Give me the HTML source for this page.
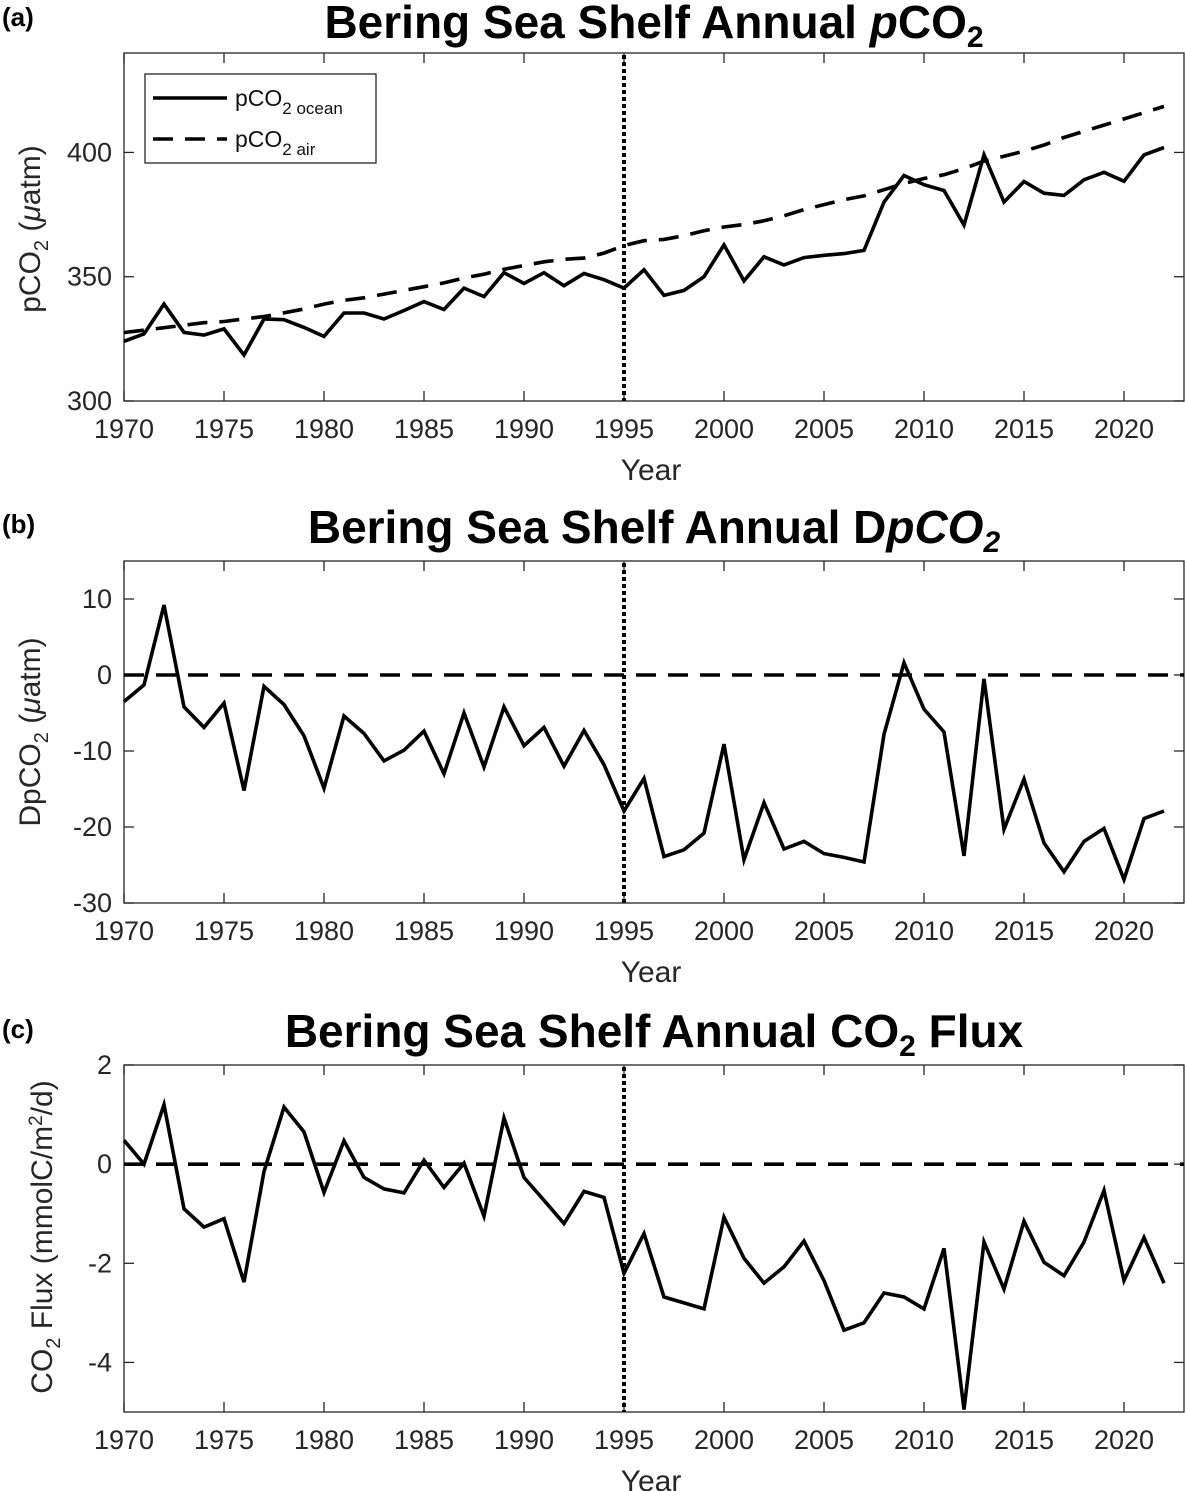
<!DOCTYPE html>
<html><head><meta charset="utf-8"><style>
body{margin:0;background:#fff;}
svg{display:block;font-family:"Liberation Sans",Arial,sans-serif;}
</style></head><body>
<svg id="fig" width="1185" height="1491" viewBox="0 0 1185 1491" xmlns="http://www.w3.org/2000/svg"></svg>
<script>
const years = [];
for (let y = 1970; y <= 2022; y++) years.push(y);
const pco2Ocean = [324,327,339,327.6,326.5,329,318.5,333,332.7,329.6,326,335.4,335.4,333,336.4,340,336.8,345.4,342,351.6,347.3,351.6,346.4,351.3,348.8,345.4,352.8,342.5,344.5,350,362.8,348.3,358,354.7,357.7,358.6,359.3,360.6,380,390.7,387,384.7,370.8,399,380,388.3,383.6,382.7,389,392,388.4,399,402];
const pco2Air = [327.5,328.5,329.5,330.5,331.5,332,333,334,335.5,337,339,340.5,341.5,343,344.5,346,347.5,349.5,351,353,354.5,356,357,357.5,359.5,362.5,364.5,365,366.5,368.5,370,371,372.5,374.5,377,379,381,382.5,385,387.5,389.5,391,393.5,396.5,398.5,400.5,403,406,408.5,411,413.5,416,418.5];
const dpco2 = [-3.5,-1.3,9.2,-4.2,-6.9,-3.7,-15.2,-1.5,-3.9,-8,-14.9,-5.4,-7.7,-11.3,-9.9,-7.4,-13,-5,-12.1,-4.2,-9.3,-6.9,-12,-7.3,-11.8,-17.9,-13.6,-23.9,-23,-20.8,-9.1,-24.3,-16.8,-22.9,-21.9,-23.5,-24,-24.6,-7.8,1.6,-4.5,-7.5,-23.8,-0.5,-20.3,-13.7,-22.1,-25.9,-21.9,-20.2,-26.9,-18.9,-17.9];
const flux = [0.48,0.0,1.2,-0.9,-1.27,-1.1,-2.38,-0.15,1.15,0.65,-0.57,0.47,-0.27,-0.5,-0.58,0.08,-0.47,0.02,-1.05,0.93,-0.27,-0.73,-1.2,-0.55,-0.67,-2.2,-1.4,-2.68,-2.8,-2.92,-1.07,-1.9,-2.4,-2.07,-1.55,-2.35,-3.35,-3.2,-2.6,-2.68,-2.92,-1.7,-4.95,-1.57,-2.52,-1.15,-1.98,-2.25,-1.57,-0.53,-2.35,-1.48,-2.4];
const xTicks = [1970,1975,1980,1985,1990,1995,2000,2005,2010,2015,2020];
const yTicksA = [300,350,400];
const yTicksB = [-30,-20,-10,0,10];
const yTicksC = [-4,-2,0,2];
const markerYear = [1995];

const svg = document.getElementById('fig');
const NS = 'http://www.w3.org/2000/svg';
function mk(tag, attrs, parent){const e=document.createElementNS(NS,tag);for(const k in attrs)e.setAttribute(k,attrs[k]);(parent||svg).appendChild(e);return e;}

const X0=124, X1=1184, XMIN=1970, XMAX=2023;
function sx(v){return X0+(v-XMIN)/(XMAX-XMIN)*(X1-X0);}

function panel(id, top, bottom, ymin, ymax, yTicks){
  const g = mk('g',{});
  
  
  const sy = v => bottom-(v-ymin)/(ymax-ymin)*(bottom-top);
  const box = mk('rect',{x:X0,y:top,width:X1-X0,height:bottom-top,fill:'none',stroke:'#262626','stroke-width':1.3},g);
  
  
  xTicks.forEach(t=>{
    const x=sx(t);
    mk('line',{x1:x,x2:x,y1:bottom,y2:bottom-10,stroke:'#262626','stroke-width':1.3},g);
    mk('line',{x1:x,x2:x,y1:top,y2:top+10,stroke:'#262626','stroke-width':1.3},g);
    const tx = mk('text',{x:x,y:bottom+37,'text-anchor':'middle','font-size':27,fill:'#262626'},g);
    tx.textContent=t;
    
    
  });
  yTicks.forEach(t=>{
    const y=sy(t);
    mk('line',{x1:X0,x2:X0+10,y1:y,y2:y,stroke:'#262626','stroke-width':1.3},g);
    mk('line',{x1:X1,x2:X1-10,y1:y,y2:y,stroke:'#262626','stroke-width':1.3},g);
    const tx = mk('text',{x:X0-12,y:y+9,'text-anchor':'end','font-size':27,fill:'#262626'},g);
    tx.textContent=t;
    
    
  });
  const xl = mk('text',{x:(X0+X1)/2-3,y:bottom+79,'text-anchor':'middle','font-size':30,fill:'#262626'},g);
  xl.textContent='Year';
  
  
  markerYear.forEach(m=>{
    const l = mk('line',{x1:sx(m),x2:sx(m),y1:top+2,y2:bottom,stroke:'#000','stroke-width':4,'stroke-dasharray':'4 3'},g);
    
    
  });
  return {g, sy};
}
function series(g, sy, vals, dash, name){
  const pts = vals.map((v,i)=>sx(years[i]).toFixed(1)+','+sy(v).toFixed(1)).join(' ');
  const p = mk('polyline',{points:pts,fill:'none',stroke:'#000','stroke-width':3.6,'stroke-linejoin':'miter','stroke-dasharray':dash||'none'},g);
  
  
}
function zero(g, sy){
  const l = mk('line',{x1:X0,x2:X1,y1:sy(0),y2:sy(0),stroke:'#000','stroke-width':3.6,'stroke-dasharray':'20 12'},g);
  
  
}

const A = panel('a',53,401,300,440,yTicksA);
series(A.g,A.sy,pco2Air,'20 12','series-pco2-air');
series(A.g,A.sy,pco2Ocean,null,'series-pco2-ocean');
const B = panel('b',561,903,-30,15,yTicksB);
zero(B.g,B.sy);
series(B.g,B.sy,dpco2,null,'series-dpco2');
const C = panel('c',1065,1412,-5,2,yTicksC);
zero(C.g,C.sy);
series(C.g,C.sy,flux,null,'series-co2-flux');
</script>
<svg style="position:absolute;left:0;top:0" width="1185" height="1491">
  <g font-family="Liberation Sans, Arial, sans-serif">
    <text x="2" y="26" font-size="26" font-weight="bold">(a)</text>
    <text x="2" y="533" font-size="26" font-weight="bold">(b)</text>
    <text x="2" y="1038" font-size="26" font-weight="bold">(c)</text>
    <text x="654" y="38" text-anchor="middle" font-size="46" font-weight="bold">Bering Sea Shelf Annual <tspan font-style="italic">p</tspan>CO<tspan font-size="30" dy="9">2</tspan></text>
    <text x="654" y="543" text-anchor="middle" font-size="46" font-weight="bold">Bering Sea Shelf Annual D<tspan font-style="italic">pCO</tspan><tspan font-style="italic" font-size="30" dy="9">2</tspan></text>
    <text x="654" y="1047" text-anchor="middle" font-size="46" font-weight="bold">Bering Sea Shelf Annual CO<tspan font-size="30" dy="9">2</tspan><tspan dy="-9"> Flux</tspan></text>
    <text transform="translate(40,229) rotate(-90)" text-anchor="middle" font-size="30" fill="#262626">pCO<tspan font-size="20" dy="8">2</tspan><tspan dy="-8"> (</tspan><tspan font-style="italic">μ</tspan>atm)</text>
    <text transform="translate(40,732) rotate(-90)" text-anchor="middle" font-size="30" fill="#262626">DpCO<tspan font-size="20" dy="8">2</tspan><tspan dy="-8"> (</tspan><tspan font-style="italic">μ</tspan>atm)</text>
    <text transform="translate(52,1237) rotate(-90)" text-anchor="middle" font-size="30" fill="#262626">CO<tspan font-size="20" dy="8">2</tspan><tspan dy="-8"> Flux (mmolC/m</tspan><tspan font-size="19" dy="-10">2</tspan><tspan dy="10">/d)</tspan></text>
    <g>
      <rect x="145" y="74" width="231" height="89" fill="#fff" stroke="#262626" stroke-width="1.3"/>
      <line x1="153" y1="98" x2="227" y2="98" stroke="#000" stroke-width="3.6"/>
      <text x="235" y="106" font-size="23" fill="#111">pCO<tspan font-size="17" dy="8">2 ocean</tspan></text>
      <line x1="153" y1="139" x2="227" y2="139" stroke="#000" stroke-width="3.6" stroke-dasharray="20 12"/>
      <text x="235" y="147" font-size="23" fill="#111">pCO<tspan font-size="17" dy="8">2 air</tspan></text>
    </g>
  </g>
</svg>
</body></html>
